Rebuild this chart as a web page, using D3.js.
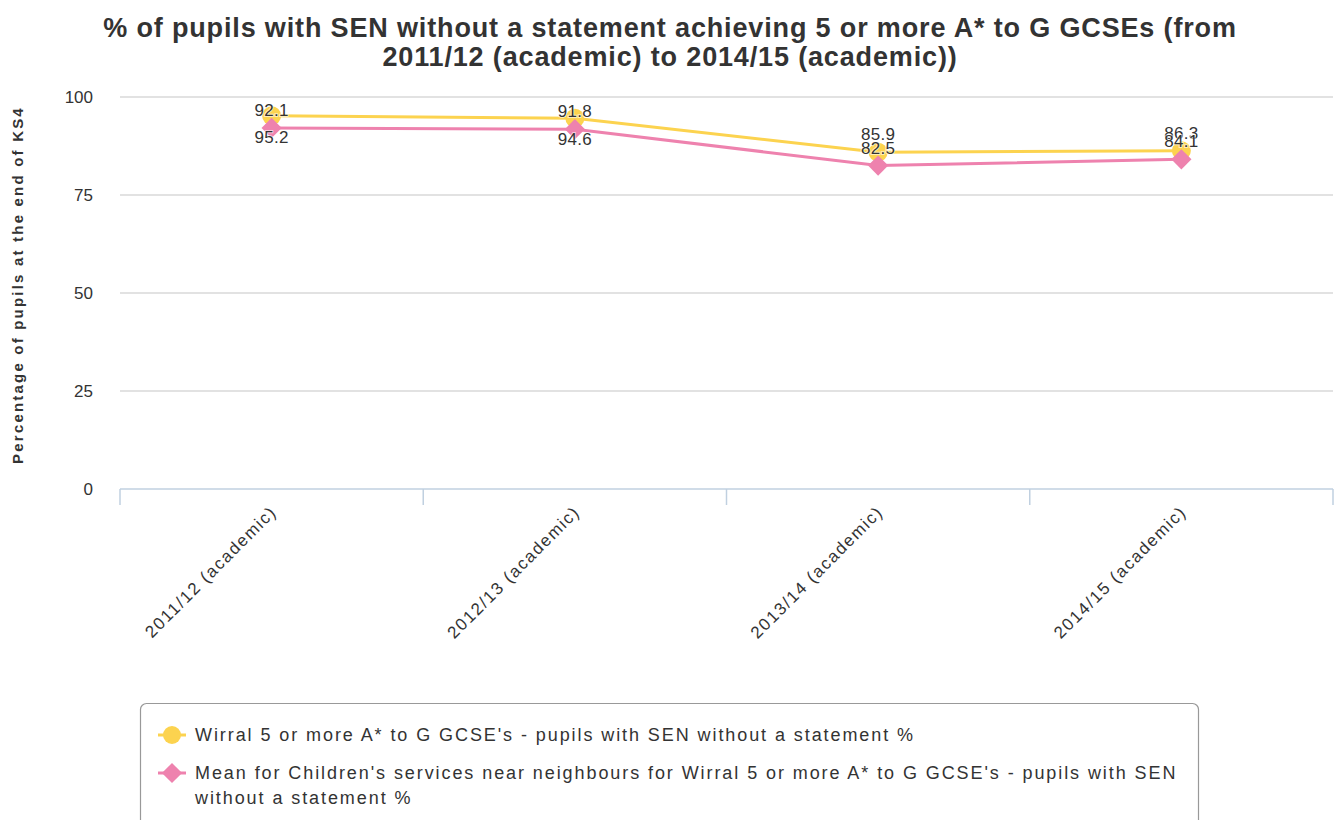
<!DOCTYPE html>
<html><head><meta charset="utf-8">
<script src="https://cdn.jsdelivr.net/npm/d3@7"></script>
<style>body{margin:0;background:#fff;font-family:"Liberation Sans",Arial,sans-serif;}</style>
</head><body>
<svg id="c" width="1335" height="820"></svg>
<script>
const categories = ["2011/12 (academic)","2012/13 (academic)","2013/14 (academic)","2014/15 (academic)"];
const wirral = [95.2, 94.6, 85.9, 86.3];
const neighbours = [92.1, 91.8, 82.5, 84.1];
const yTicks = [0, 25, 50, 75, 100];
const titleLines = ["% of pupils with SEN without a statement achieving 5 or more A* to G GCSEs (from","2011/12 (academic) to 2014/15 (academic))"];
const yTitle = "Percentage of pupils at the end of KS4";
const legendLabels = [["Wirral 5 or more A* to G GCSE's - pupils with SEN without a statement %"],
  ["Mean for Children's services near neighbours for Wirral 5 or more A* to G GCSE's - pupils with SEN","without a statement %"]];
const colors = ["#FCD34F", "#EE82AE"];

(function(){
const svg = d3.select("#c");
const pLeft = 120, pRight = 1333, pTop = 97, pBottom = 489;
const x = d3.scaleBand().domain(categories).range([pLeft, pRight]);
const y = d3.scaleLinear().domain([0, 100]).range([pBottom, pTop]);

svg.append("text").attr("text-anchor","middle").attr("font-weight","bold")
  .attr("font-size", 27).attr("letter-spacing",0.85).attr("fill","#333")
  .selectAll("tspan").data(titleLines).join("tspan").attr("x",670).attr("y",(d,i)=>37+i*29).text(d=>d);

svg.append("g").selectAll("line").data(yTicks).join("line")
  .attr("x1",pLeft).attr("x2",pRight).attr("y1",d=>y(d)).attr("y2",d=>y(d))
  .attr("stroke", d=> d===0 ? "none" : "#d8d8d8").attr("stroke-width",1.5);

svg.append("g").selectAll("text").data(yTicks).join("text")
  .attr("x", 93).attr("y", d=>y(d)+6).attr("text-anchor","end")
  .attr("font-size",17).attr("fill","#333").text(d=>d);

svg.append("text").attr("transform",`translate(23,${(pTop+pBottom)/2-8}) rotate(-90)`)
  .attr("text-anchor","middle").attr("font-size",15).attr("letter-spacing",2.2)
  .attr("font-weight","bold").attr("fill","#333").text(yTitle);

const xAxis = svg.append("g");
xAxis.append("line").attr("x1",pLeft).attr("x2",pRight).attr("y1",pBottom).attr("y2",pBottom)
  .attr("stroke","#c0d0e0").attr("stroke-width",1.5);
const tickPos = categories.map(c=>x(c)).concat([pRight]);
xAxis.selectAll("line.t").data(tickPos).join("line").attr("class","t")
  .attr("x1",d=>d).attr("x2",d=>d).attr("y1",pBottom).attr("y2",pBottom+16)
  .attr("stroke","#c0d0e0").attr("stroke-width",1.5);
xAxis.selectAll("text").data(categories).join("text")
  .attr("transform",d=>`translate(${x(d)+x.bandwidth()/2+6},${pBottom+24}) rotate(-45)`)
  .attr("text-anchor","end").attr("font-size",17).attr("letter-spacing",1.6).attr("fill","#333").text(d=>d);

const cx = c => x(c)+x.bandwidth()/2;
const series = [wirral, neighbours];
const line = d3.line().x((d,i)=>cx(categories[i])).y(d=>y(d));
series.forEach((s,k)=>{
  svg.append("path").datum(s).attr("d",line).attr("fill","none").attr("stroke",colors[k]).attr("stroke-width",3);
});
svg.append("g").selectAll("circle").data(wirral).join("circle")
  .attr("cx",(d,i)=>cx(categories[i])).attr("cy",d=>y(d)).attr("r",9.5).attr("fill",colors[0]);
const diamond = d3.symbol().type(d3.symbolDiamond2).size(260);
svg.append("g").selectAll("path").data(neighbours).join("path")
  .attr("transform",(d,i)=>`translate(${cx(categories[i])},${y(d)})`).attr("d",diamond).attr("fill",colors[1]);

const lbl = svg.append("g").attr("font-size",17).attr("letter-spacing",0.3).attr("fill","#333").attr("text-anchor","middle");
series.forEach((s,k)=>{
  s.forEach((v,i)=>{
    let ly = y(v) - 18;
    if (ly - 9 < pTop) ly = y(v) + 21;
    lbl.append("text").attr("x",cx(categories[i])).attr("y",ly+6)
      .attr("stroke","#fff").attr("stroke-width",2).attr("stroke-opacity",0.6).attr("paint-order","stroke")
      .text(v.toFixed(1));
  });
});

const lg = svg.append("g");
lg.append("rect").attr("x",140.5).attr("y",703.5).attr("width",1058).attr("height",130).attr("rx",6)
  .attr("fill","#fff").attr("stroke","#999").attr("stroke-width",1.2);
const rows = [735, 773];
legendLabels.forEach((lines,k)=>{
  const yy = rows[k];
  lg.append("line").attr("x1",158).attr("x2",186).attr("y1",yy).attr("y2",yy).attr("stroke",colors[k]).attr("stroke-width",3);
  if(k===0) lg.append("circle").attr("cx",172).attr("cy",yy).attr("r",9).attr("fill",colors[0]);
  else lg.append("path").attr("transform",`translate(172,${yy})`).attr("d",diamond).attr("fill",colors[1]);
  lg.append("text").attr("font-size",18).attr("letter-spacing",1.92).attr("fill","#333")
    .selectAll("tspan").data(lines).join("tspan").attr("x",195).attr("y",(d,i)=>yy+6+i*25).text(d=>d);
});
})();
</script>
</body></html>
